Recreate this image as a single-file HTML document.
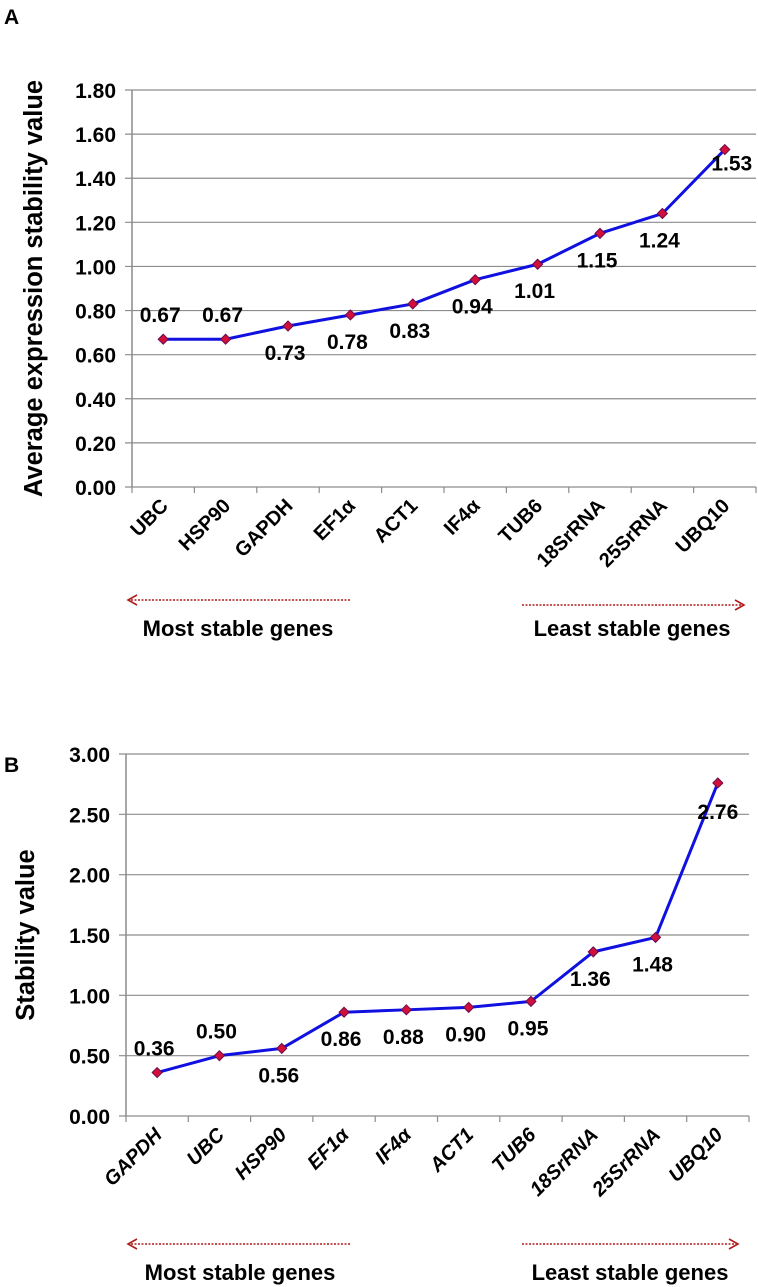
<!DOCTYPE html>
<html><head><meta charset="utf-8"><style>
html,body{margin:0;padding:0;background:#fff;}
svg{display:block;font-family:"Liberation Sans",Arial,sans-serif;font-weight:bold;}
</style></head><body>
<svg id="svg" width="758" height="1287" viewBox="0 0 758 1287" xmlns="http://www.w3.org/2000/svg">
<defs>
<marker id="ah" markerWidth="12" markerHeight="12" refX="10" refY="6" orient="auto" markerUnits="userSpaceOnUse">
<path d="M1,1 L10,6 L1,11" fill="none" stroke="#b01c1c" stroke-width="1.6"/></marker>
</defs>
<text x="4" y="24" font-size="21">A</text>
<text x="4" y="772" font-size="21">B</text>
<g id="chartA"></g>
<g id="chartB"></g>
<g>
<line x1="350" y1="600" x2="128" y2="600" stroke="#b01c1c" stroke-width="1.6" stroke-dasharray="2,1.5" marker-end="url(#ah)"/>
<text x="238" y="636" font-size="22" text-anchor="middle">Most stable genes</text>
<line x1="522" y1="605" x2="744" y2="605" stroke="#b01c1c" stroke-width="1.6" stroke-dasharray="2,1.5" marker-end="url(#ah)"/>
<text x="632" y="636" font-size="22" text-anchor="middle">Least stable genes</text>
</g>
<g>
<line x1="350" y1="1244" x2="128" y2="1244" stroke="#b01c1c" stroke-width="1.6" stroke-dasharray="2,1.5" marker-end="url(#ah)"/>
<text x="240" y="1280" font-size="22" text-anchor="middle">Most stable genes</text>
<line x1="522" y1="1244" x2="738" y2="1244" stroke="#b01c1c" stroke-width="1.6" stroke-dasharray="2,1.5" marker-end="url(#ah)"/>
<text x="630" y="1280" font-size="22" text-anchor="middle">Least stable genes</text>
</g>
</svg>
<script>
const catsA = ["UBC","HSP90","GAPDH","EF1α","ACT1","IF4α","TUB6","18SrRNA","25SrRNA","UBQ10"];
const valsA = [0.67,0.67,0.73,0.78,0.83,0.94,1.01,1.15,1.24,1.53];
const ticksA = ["0.00","0.20","0.40","0.60","0.80","1.00","1.20","1.40","1.60","1.80"];
const labelSideA = [-1,-1,1,1,1,1,1,1,1,1];
const catsB = ["GAPDH","UBC","HSP90","EF1α","IF4α","ACT1","TUB6","18SrRNA","25SrRNA","UBQ10"];
const valsB = [0.36,0.50,0.56,0.86,0.88,0.90,0.95,1.36,1.48,2.76];
const ticksB = ["0.00","0.50","1.00","1.50","2.00","2.50","3.00"];
const labelSideB = [-1,-1,1,1,1,1,1,1,1,1];

const NS="http://www.w3.org/2000/svg";
function mk(tag,attrs,parent){const e=document.createElementNS(NS,tag);for(const k in attrs)e.setAttribute(k,attrs[k]);parent.appendChild(e);return e;}

function drawChart(g,cats,vals,ticks,sides,o){
  const yMax=parseFloat(ticks[ticks.length-1]);
  const y=v=>o.bottom-(v/yMax)*(o.bottom-o.top);
  const step=(o.right-o.left)/cats.length;
  const x=i=>o.left+step*(i+0.5);
  ticks.forEach(t=>{
    const v=parseFloat(t), yy=y(v);
    const gl=mk('line',{x1:o.left-7,x2:o.right,y1:yy,y2:yy,stroke:'#8c8c8c','stroke-width':1.2},g);
    
    
    const tl=mk('text',{x:o.left-16,y:yy+8,'font-size':21,'text-anchor':'end'},g);
    tl.textContent=t;
    
    
  });
  const ax=mk('line',{x1:o.left,x2:o.left,y1:o.top,y2:o.bottom,stroke:'#8c8c8c','stroke-width':1.5},g);
  
  
  for(let i=0;i<=cats.length;i++){
    const tx=o.left+step*i;
    const tk=mk('line',{x1:tx,x2:tx,y1:o.bottom,y2:o.bottom+6,stroke:'#8c8c8c','stroke-width':1.2},g);
    
    
  }
  cats.forEach((c,i)=>{
    const lx=x(i)+6, ly=o.bottom+20;
    const t=mk('text',{x:lx,y:ly,'font-size':20,'text-anchor':'end',transform:`rotate(-45 ${lx} ${ly})`},g);
    if(o.italic)t.setAttribute('font-style','italic');
    t.textContent=c;
    
    
  });
  const pts=vals.map((v,i)=>x(i)+','+y(v)).join(' ');
  const pl=mk('polyline',{points:pts,fill:'none',stroke:'#1010e0','stroke-width':3,'stroke-linejoin':'round'},g);
  
  
  vals.forEach((v,i)=>{
    const px=x(i),py=y(v);
    const m=mk('polygon',{points:`${px},${py-5} ${px+5},${py} ${px},${py+5} ${px-5},${py}`,fill:'#d0103a',stroke:'#6a0a50','stroke-width':1},g);
    
    
    const last=i===cats.length-1;
    const dy=sides[i]<0?-17:(last?o.lastDy:34);
    const lt=mk('text',{x:px-3+(last?o.lastDx:0),y:py+dy,'font-size':21,'text-anchor':'middle'},g);
    lt.textContent=v.toFixed(2);
    
    
  });
  const yt=mk('text',{x:0,y:0,'font-size':o.titleSize,'text-anchor':'middle',transform:`translate(${o.titleX} ${(o.top+o.bottom)/2}) rotate(-90)`},g);
  yt.textContent=o.title;
  
  
}
drawChart(document.getElementById('chartA'),catsA,valsA,ticksA,labelSideA,
  {left:132,right:756,top:90,bottom:487,title:'Average expression stability value',titleX:42,titleSize:25.5,italic:false,lastDy:21,lastDx:10});
drawChart(document.getElementById('chartB'),catsB,valsB,ticksB,labelSideB,
  {left:126,right:749,top:754,bottom:1116,title:'Stability value',titleX:34,titleSize:25.5,italic:true,lastDy:36,lastDx:3});
</script>
</body></html>
